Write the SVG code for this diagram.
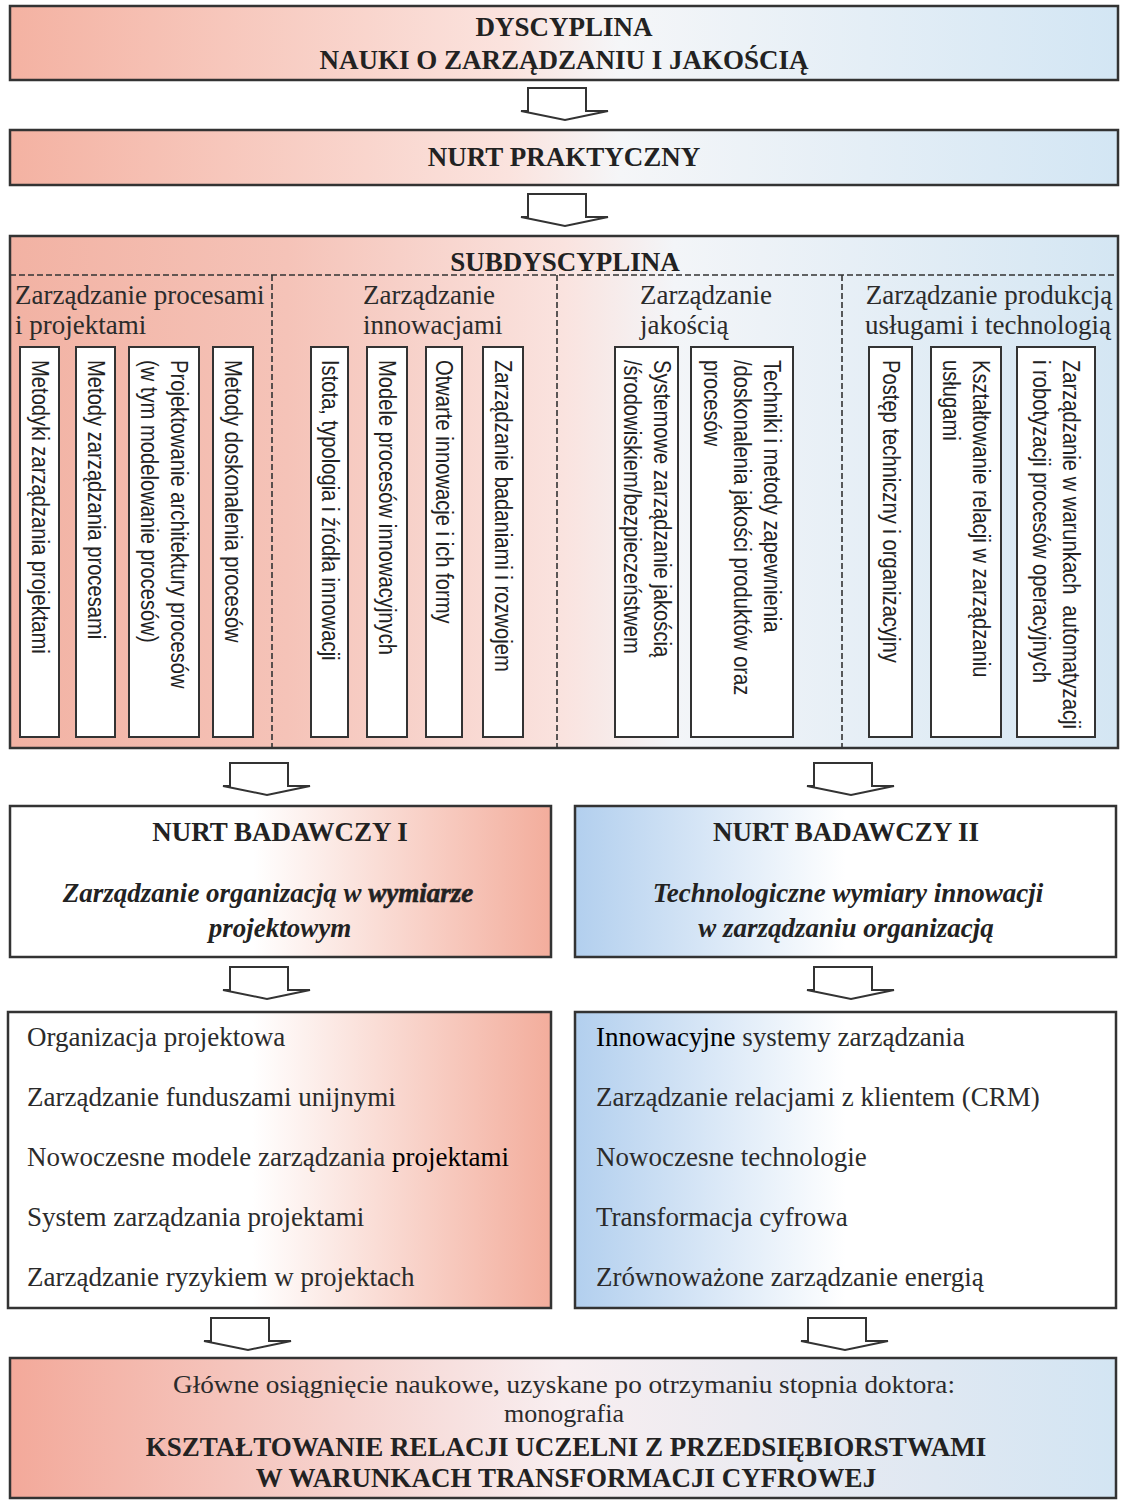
<svg xmlns="http://www.w3.org/2000/svg" width="1122" height="1502" viewBox="0 0 1122 1502">
<defs>
<linearGradient id="gTop" x1="0" y1="0" x2="1" y2="0">
<stop offset="0" stop-color="#f4b2a2"/><stop offset="0.45" stop-color="#fbe3de"/><stop offset="0.55" stop-color="#f5f6f8"/><stop offset="1" stop-color="#d3e6f4"/>
</linearGradient>
<linearGradient id="gSub" x1="0" y1="0" x2="1" y2="0">
<stop offset="0" stop-color="#f2b2a3"/><stop offset="0.25" stop-color="#f5c3b8"/><stop offset="0.5" stop-color="#fae3df"/><stop offset="0.6" stop-color="#f3f5f8"/><stop offset="1" stop-color="#d4e6f3"/>
</linearGradient>
<linearGradient id="gBot" x1="0" y1="0" x2="1" y2="0">
<stop offset="0" stop-color="#f3a99a"/><stop offset="0.5" stop-color="#f8eef0"/><stop offset="1" stop-color="#d3e5f3"/>
</linearGradient>
<linearGradient id="gLeft" x1="0" y1="0" x2="1" y2="0">
<stop offset="0" stop-color="#ffffff"/><stop offset="0.45" stop-color="#ffffff"/><stop offset="1" stop-color="#f3ad9c"/>
</linearGradient>
<linearGradient id="gRight" x1="0" y1="0" x2="1" y2="0">
<stop offset="0" stop-color="#b2cfee"/><stop offset="0.5" stop-color="#ffffff"/><stop offset="1" stop-color="#ffffff"/>
</linearGradient>
<path id="arr" d="M0,0 H58 V23 H80 L37,32 L-7,23 H0 Z"/>
<style>
.box{stroke:#333;stroke-width:2.5}
.vb{fill:#fff;stroke:#333;stroke-width:2}
.dash{fill:none;stroke:#333;stroke-width:1.6;stroke-dasharray:6 3}
.hb{font-family:"Liberation Serif","Times New Roman",serif;font-weight:bold;font-size:27px;fill:#222;text-anchor:middle}
.ib{font-family:"Liberation Serif","Times New Roman",serif;font-weight:bold;font-style:italic;font-size:27px;fill:#222;text-anchor:middle}
.t{font-family:"Liberation Serif","Times New Roman",serif;font-size:27px;fill:#2b2b2b}
.tc{font-family:"Liberation Serif","Times New Roman",serif;font-size:27px;fill:#2b2b2b;text-anchor:middle}
.ts{font-family:"Liberation Serif","Times New Roman",serif;font-size:26px;fill:#2b2b2b;text-anchor:middle}
.v{font-family:"Liberation Sans",Arial,sans-serif;font-size:24.5px;fill:#222}
.arw{fill:#fff;stroke:#333;stroke-width:2;stroke-linejoin:miter}
</style>
</defs>
<rect width="1122" height="1502" fill="#fff"/>

<g id="dyscyplina">
<rect class="box" x="10" y="6" width="1108" height="74" fill="url(#gTop)"/>
<text class="hb" x="564" y="36">DYSCYPLINA</text>
<text class="hb" x="564" y="69">NAUKI O ZARZĄDZANIU I JAKOŚCIĄ</text>
</g>

<g id="nurt-praktyczny">
<rect class="box" x="10" y="130" width="1108" height="55" fill="url(#gTop)"/>
<text class="hb" x="564" y="166">NURT PRAKTYCZNY</text>
</g>

<g id="subdyscyplina">
<rect class="box" x="10" y="236" width="1108" height="512" fill="url(#gSub)"/>
<text class="hb" x="565" y="271">SUBDYSCYPLINA</text>
<path class="dash" d="M10,275 H1118 M272,275 V748 M557,275 V748 M842,275 V748"/>
</g>

<g id="procesy-projekty">
<text class="t" x="15" y="304">Zarządzanie procesami</text>
<text class="t" x="15" y="334">i projektami</text>
<rect class="vb" x="20" y="347" width="39" height="390"/>
<rect class="vb" x="76" y="347" width="39" height="390"/>
<rect class="vb" x="129" y="347" width="70" height="390"/>
<rect class="vb" x="213" y="347" width="40" height="390"/>
<g transform="translate(31.5,360) rotate(90) scale(0.824,1)"><text class="v">Metodyki zarządzania projektami</text></g>
<g transform="translate(87.5,360) rotate(90) scale(0.824,1)"><text class="v">Metody zarządzania procesami</text></g>
<g transform="translate(171,360) rotate(90) scale(0.824,1)"><text class="v">Projektowanie architektury procesów</text><text class="v" y="30">(w tym modelowanie procesów)</text></g>
<g transform="translate(225,360) rotate(90) scale(0.824,1)"><text class="v">Metody doskonalenia procesów</text></g>
</g>

<g id="innowacje">
<text class="t" x="363" y="304">Zarządzanie</text>
<text class="t" x="363" y="334">innowacjami</text>
<rect class="vb" x="311" y="347" width="37" height="390"/>
<rect class="vb" x="367" y="347" width="40" height="390"/>
<rect class="vb" x="426" y="347" width="36" height="390"/>
<rect class="vb" x="483" y="347" width="40" height="390"/>
<g transform="translate(321.5,360) rotate(90) scale(0.824,1)"><text class="v">Istota, typologia i źródła innowacji</text></g>
<g transform="translate(379,360) rotate(90) scale(0.824,1)"><text class="v">Modele procesów innowacyjnych</text></g>
<g transform="translate(436,360) rotate(90) scale(0.824,1)"><text class="v">Otwarte innowacje i ich formy</text></g>
<g transform="translate(495,360) rotate(90) scale(0.824,1)"><text class="v">Zarządzanie badaniami i rozwojem</text></g>
</g>

<g id="jakosc">
<text class="t" x="640" y="304">Zarządzanie</text>
<text class="t" x="640" y="334">jakością</text>
<rect class="vb" x="615" y="347" width="63" height="390"/>
<rect class="vb" x="691" y="347" width="102" height="390"/>
<g transform="translate(653.5,360) rotate(90) scale(0.824,1)"><text class="v">Systemowe zarządzanie jakością</text><text class="v" y="30">/środowiskiem/bezpieczeństwem</text></g>
<g transform="translate(764,360) rotate(90) scale(0.824,1)"><text class="v">Techniki i metody zapewnienia</text><text class="v" y="30">/doskonalenia jakości produktów oraz</text><text class="v" y="60">procesów</text></g>
</g>

<g id="produkcja">
<text class="tc" x="989" y="304">Zarządzanie produkcją</text>
<text class="tc" x="988" y="334">usługami i technologią</text>
<rect class="vb" x="869" y="347" width="43" height="390"/>
<rect class="vb" x="931" y="347" width="70" height="390"/>
<rect class="vb" x="1017" y="347" width="78" height="390"/>
<g transform="translate(882.5,360) rotate(90) scale(0.824,1)"><text class="v">Postęp techniczny i organizacyjny</text></g>
<g transform="translate(973,360) rotate(90) scale(0.824,1)"><text class="v">Kształtowanie relacji w zarządzaniu</text><text class="v" y="30">usługami</text></g>
<g transform="translate(1063,360) rotate(90) scale(0.824,1)"><text class="v" style="white-space:pre">Zarządzanie w warunkach  automatyzacji</text><text class="v" y="30">i robotyzacji procesów operacyjnych</text></g>
</g>

<g id="nurt-badawczy-1">
<rect class="box" x="10" y="806" width="541" height="151" fill="url(#gLeft)"/>
<text class="hb" x="280" y="841">NURT BADAWCZY I</text>
<text class="ib" x="268" y="902">Zarządzanie organizacją w <tspan stroke="#222" stroke-width="0.6">wymiarze</tspan></text>
<text class="ib" x="280" y="937">projektowym</text>
</g>

<g id="nurt-badawczy-2">
<rect class="box" x="575" y="806" width="541" height="151" fill="url(#gRight)"/>
<text class="hb" x="846" y="841">NURT BADAWCZY II</text>
<text class="ib" x="848" y="902">Technologiczne wymiary innowacji</text>
<text class="ib" x="846" y="937">w zarządzaniu organizacją</text>
</g>

<g id="lista-1">
<rect class="box" x="8" y="1012" width="543" height="296" fill="url(#gLeft)"/>
<text class="t" x="27" y="1046">Organizacja projektowa</text>
<text class="t" x="27" y="1106">Zarządzanie funduszami unijnymi</text>
<text class="t" x="27" y="1166">Nowoczesne modele zarządzania <tspan fill="#000">projektami</tspan></text>
<text class="t" x="27" y="1226">System zarządzania projektami</text>
<text class="t" x="27" y="1286">Zarządzanie ryzykiem w projektach</text>
</g>

<g id="lista-2">
<rect class="box" x="575" y="1012" width="541" height="296" fill="url(#gRight)"/>
<text class="t" x="596" y="1046"><tspan fill="#000">Innowacyjne</tspan> systemy zarządzania</text>
<text class="t" x="596" y="1106">Zarządzanie relacjami z klientem (CRM)</text>
<text class="t" x="596" y="1166">Nowoczesne technologie</text>
<text class="t" x="596" y="1226">Transformacja cyfrowa</text>
<text class="t" x="596" y="1286">Zrównoważone zarządzanie energią</text>
</g>

<g id="osiagniecie">
<rect class="box" x="10" y="1358" width="1106" height="140" fill="url(#gBot)"/>
<text class="ts" x="564" y="1393" textLength="782" lengthAdjust="spacingAndGlyphs">Główne osiągnięcie naukowe, uzyskane po otrzymaniu stopnia doktora:</text>
<text class="ts" x="564" y="1422">monografia</text>
<text class="hb" x="566" y="1456">KSZTAŁTOWANIE RELACJI UCZELNI Z PRZEDSIĘBIORSTWAMI</text>
<text class="hb" x="566" y="1487">W WARUNKACH TRANSFORMACJI CYFROWEJ</text>
</g>

<g id="connectors">
<use href="#arr" class="arw" x="528" y="88"/>
<use href="#arr" class="arw" x="528" y="194"/>
<use href="#arr" class="arw" x="230" y="763"/>
<use href="#arr" class="arw" x="814" y="763"/>
<use href="#arr" class="arw" x="230" y="967"/>
<use href="#arr" class="arw" x="814" y="967"/>
<use href="#arr" class="arw" x="211" y="1318"/>
<use href="#arr" class="arw" x="808" y="1318"/>
</g>
</svg>
